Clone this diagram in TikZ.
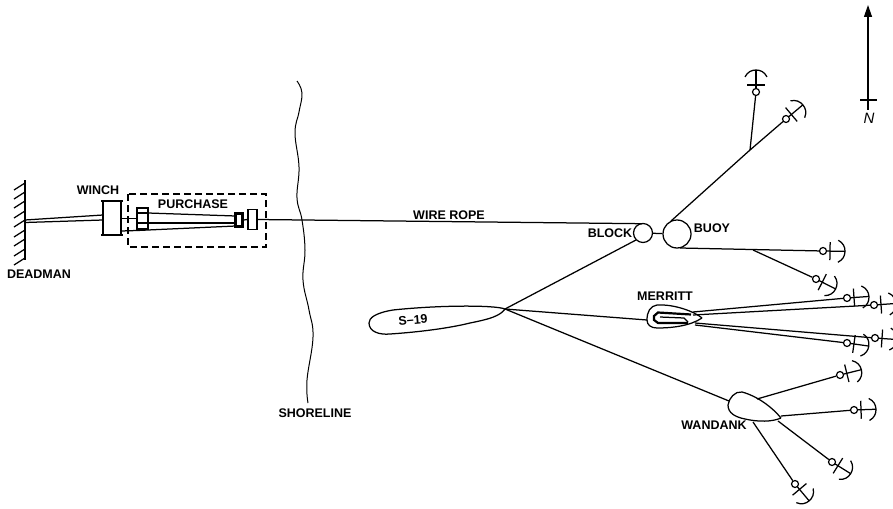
\documentclass[tikz,border=0pt]{standalone}
\usepackage{fontspec}
\setmainfont{Liberation Sans}
\usetikzlibrary{arrows.meta}
\tikzset{
  ln/.style={line width=1.25pt,black},
  lbl/.style={font=\fontsize{12.5}{13}\selectfont\bfseries,inner sep=0pt,black},
  ringnode/.style={circle,draw,line width=1.2pt,inner sep=0pt,minimum size=7pt,fill=white},
  gear/.style={draw,line width=1.2pt,fill=white},
}
\newcommand{\moor}[4]{%
  \node[ringnode] (#1) at (#2,#3) {};
  \begin{scope}[shift={(#2,#3)},rotate=#4]
    \draw[ln] (3.5,0) -- (22,0);
    \draw[ln] (7,-9) -- (7,9);
    \draw[ln] (15.1,11) .. controls (20,8.5) and (22,4.5) .. (22,0) .. controls (22,-4.5) and (20,-8.5) .. (15.1,-11);
  \end{scope}}
\begin{document}
\begin{tikzpicture}[x=1pt,y=-1pt]
\useasboundingbox[fill=white] (0,0) rectangle (893,508);
% deadman wall
\draw[ln,line width=1.4pt] (25,180) -- (25,260);
\foreach \yy in {183,192,201,211,220,230,239,249,258}
  \draw[ln] (25,\yy) -- (14,\yy+7);
\coordinate (wallA) at (25,220);
\coordinate (wallB) at (25,222.5);
% winch
\node[gear,minimum width=18pt,minimum height=34pt,inner sep=0pt] (winch) at (112,218) {};
\draw[line width=2.2pt] (101,201) -- (123,201);
\draw[line width=2.2pt] (101,235) -- (123,235);
\draw[ln] (wallA) -- (103,215);
\draw[ln] (wallB) -- (103,220);
% shoreline
\draw[line width=1pt] plot[smooth,tension=0.7] coordinates {(297,81) (302,93) (299,112) (295,133) (299,167) (297,198) (302,220) (305,250) (303,280) (309,310) (313,337) (307,380) (308,403)};
% purchase blocks
\node[gear,minimum width=11pt,minimum height=21pt,inner sep=0pt] (blockA) at (142.5,218.5) {};
\draw[ln] (137,213) -- (148,213) (137,223) -- (148,223);
\node[gear,line width=2.2pt,minimum width=7pt,minimum height=13pt,inner sep=0pt] (blockB) at (239,220) {};
\node[gear,minimum width=9pt,minimum height=20pt,inner sep=0pt] (blockC) at (252.5,219.5) {};
\draw[ln] (121,218.5) -- (blockA.west);
\draw[ln] (121,231) -- (137,230.5);
\draw[ln] (148,213) -- (235.5,216);
\draw[ln] (148,223) -- (235.5,223);
\draw[ln] (137,230.5) -- (235.5,226);
\draw[ln] (blockB.east) -- (blockC.west);
\draw[line width=1.1pt,dash pattern=on 7pt off 4pt] (128,194) rectangle (266,247);
% block and buoy
\node[circle,draw,line width=1.25pt,inner sep=0pt,minimum size=19pt] (block) at (643,233) {};
\node[circle,draw,line width=1.25pt,inner sep=0pt,minimum size=28pt] (buoy) at (677,234) {};
\draw[ln] (block) -- (buoy);
\draw[ln] (blockC.east) -- (642,223.7);
% S-19
\coordinate (sbow) at (505,309);
\draw[ln] (sbow) .. controls (495,305) and (440,305) .. (393,310) .. controls (375,313) and (369,318) .. (369,323) .. controls (369,332) and (380,335) .. (390,334) .. controls (420,332) and (450,328) .. (470,323) .. controls (490,319) and (500,316) .. (sbow);
% Merritt
\coordinate (mstern) at (647,320);
\draw[ln] (702,318) .. controls (695,312) and (675,304) .. (657,305) .. controls (650,306) and (647,312) .. (mstern) .. controls (647,325) and (651,328) .. (657,328) .. controls (672,328) and (690,326) .. (702,318);
\draw[line width=2.2pt] (691,314.5) -- (658,312.5) -- (654,316) -- (654,320) -- (658,323) -- (688,323);
\draw[ln] (660,317) -- (684,318) -- (688,322);
% Wandank
\coordinate (wbow) at (781,418);
\draw[ln] (wbow) .. controls (772,407) and (757,396) .. (742,392) .. controls (735,391) and (729,398) .. (728,405) .. controls (728,413) and (735,417) .. (745,419) .. controls (758,422) and (772,422) .. (wbow);
% moorings
\moor{a1}{756}{92}{90}
\moor{a2}{786}{119}{40}
\moor{a3}{823}{251}{-1}
\moor{a4}{816}{279}{-27}
\moor{a5}{847}{298}{4}
\moor{a6}{874}{305}{4}
\moor{a7}{875}{338}{-4}
\moor{a8}{847}{343}{-8}
\moor{a9}{840}{375}{14}
\moor{a10}{854}{410}{2}
\moor{a11}{832}{462}{-32}
\moor{a12}{795}{484}{-50}
% rope junctions
\coordinate (j1) at (750,150);
\coordinate (j2) at (753,250);
\draw[ln] (671,221) -- (j1) -- (a2);
\draw[ln] (j1) -- (a1);
\draw[ln] (680,248) -- (a3);
\draw[ln] (j2) -- (a4);
% S-19 lines
\draw[ln] (sbow) -- (636,240);
\draw[ln] (sbow) -- (mstern);
\draw[ln] (sbow) -- (729,401);
% Merritt lines
\draw[ln] (693,312) -- (a5);
\draw[ln] (693,315) -- (a6);
\draw[ln] (695,323) -- (a7);
\draw[ln] (695,325) -- (a8);
% Wandank lines
\draw[ln] (757,399) -- (a9);
\draw[ln] (781,416) -- (a10);
\draw[ln] (778,421) -- (a11);
\draw[ln] (753,422) -- (a12);
% north arrow
\coordinate (ntop) at (868,5);
\coordinate (nbot) at (868,110);
\draw[line width=1.3pt,-{Triangle[length=12pt,width=8pt]}] (nbot) -- (ntop);
\draw[ln] (860,100) -- (877,100);
\node[font=\fontsize{15}{16}\selectfont\itshape,inner sep=0pt] (north) at (869,118) {N};
% labels
\node[lbl] (lwinch) at (98,190.5) {WINCH};
\node[lbl] (lpurchase) at (193,204) {PURCHASE};
\node[lbl] (ldeadman) at (39,274) {DEADMAN};
\node[lbl] (lrope) at (449,215) {WIRE ROPE};
\node[lbl] (lblock) at (610,233) {BLOCK};
\node[lbl] (lbuoy) at (712,228) {BUOY};
\node[lbl] (lmerritt) at (665,296) {MERRITT};
\node[lbl] (lwandank) at (714,425) {WANDANK};
\node[lbl,rotate=5] (ls) at (413,320) {S–19};
\node[lbl] (lshore) at (315,413) {SHORELINE};
\end{tikzpicture}
\end{document}
